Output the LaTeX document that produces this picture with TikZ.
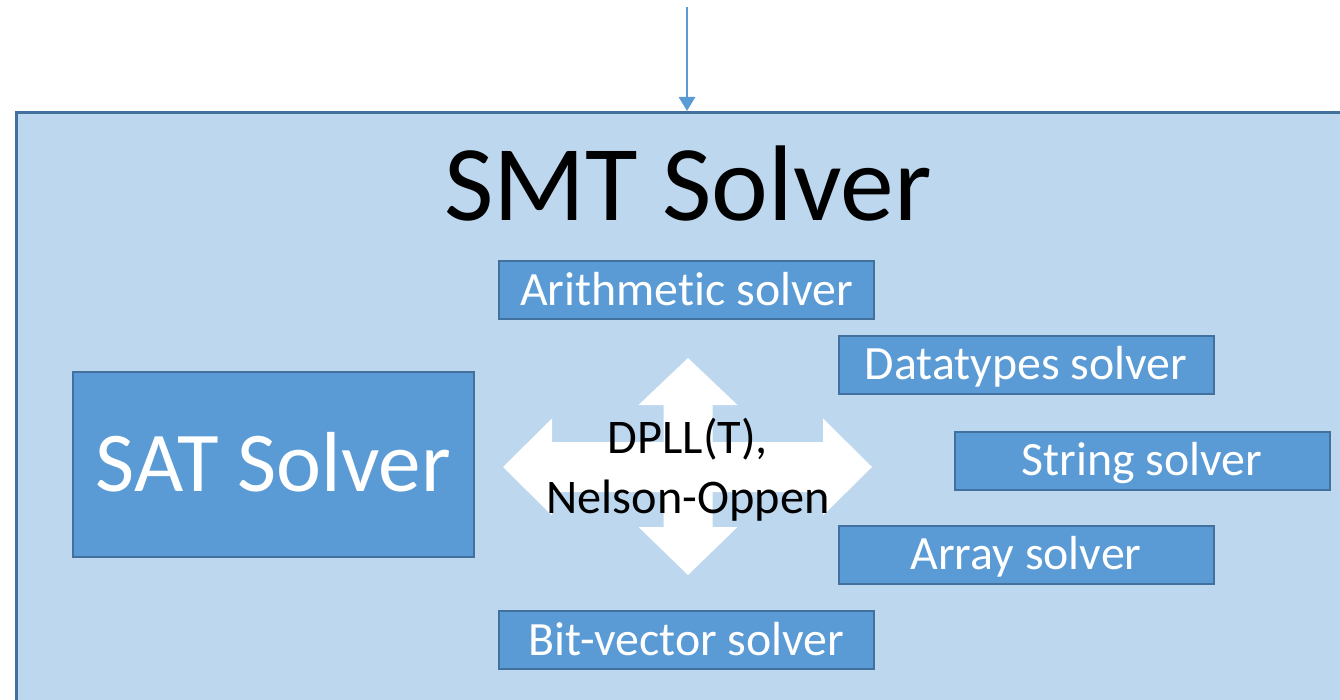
\documentclass[tikz,border=0pt]{standalone}
\usepackage{fontspec}
\setmainfont{Carlito}[Ligatures=NoCommon]
\usetikzlibrary{arrows.meta}
\definecolor{panelfill}{HTML}{BDD7EE}
\definecolor{edgeblue}{HTML}{41719C}
\definecolor{boxfill}{HTML}{5B9BD5}
\begin{document}
\begin{tikzpicture}[x=1bp,y=-1bp,
  panel/.style={draw=edgeblue, fill=panelfill, line width=3bp, inner sep=0pt,
    minimum width=1345bp, minimum height=600bp, anchor=north west},
  solverbox/.style={draw=edgeblue, fill=boxfill, line width=2bp, text=white,
    minimum width=375bp, minimum height=58bp, inner sep=0pt,
    font=\fontsize{48}{56}\selectfont, text height=30bp, text depth=0pt},
  satbox/.style={draw=edgeblue, fill=boxfill, line width=2bp, text=white,
    minimum width=401bp, minimum height=185bp, inner sep=0pt,
    font=\fontsize{85.5}{100}\selectfont, text height=54.7bp, text depth=0pt},
  title/.style={anchor=base, inner sep=0pt, font=\fontsize{108}{130}\selectfont},
  hublabel/.style={anchor=base, inner sep=0pt, font=\fontsize{48.5}{60}\selectfont},
  flow/.style={draw=boxfill, line width=2.8bp, -{Triangle[width=16bp,length=14bp]}},
]
\useasboundingbox (0,0) rectangle (1340,699);
\clip (0,0) rectangle (1340,699);

% outer SMT solver panel
\node[panel] (smt) at (15,111) {};
\node[title] (smttitle) at (688,220) {SMT Solver};

% input arrow into the panel
\coordinate (feed) at (687,7);
\draw[flow] (feed) -- (feed |- smt.north);

% SAT solver block
\node[satbox] (sat) at (273.5,464.5) {SAT Solver};

% four-way exchange arrow between SAT solver and theory solvers
\fill[white] (688,358) -- (737.5,405) -- (712.5,405) -- (712.5,442) -- (823,442)
  -- (823,418.5) -- (872,467) -- (823,515.5) -- (823,492) -- (712.5,492)
  -- (712.5,527) -- (737.5,527) -- (688,575) -- (638.5,527) -- (663.5,527)
  -- (663.5,492) -- (552,492) -- (552,515.5) -- (503,467) -- (552,418.5)
  -- (552,442) -- (663.5,442) -- (663.5,405) -- (638.5,405) -- cycle;
\node[hublabel] (hub1) at (688,453) {DPLL(T),};
\node[hublabel] (hub2) at (688,513) {Nelson-Oppen};

% theory solvers
\node[solverbox] (arith) at (686.5,290) {Arithmetic solver};
\node[solverbox] (dt) at (1026,364.5) {Datatypes solver};
\node[solverbox] (str) at (1142,460.5) {String solver};
\node[solverbox] (arr) at (1026,554.5) {Array solver};
\node[solverbox] (bv) at (686.5,640) {Bit-vector solver};
\end{tikzpicture}
\end{document}
